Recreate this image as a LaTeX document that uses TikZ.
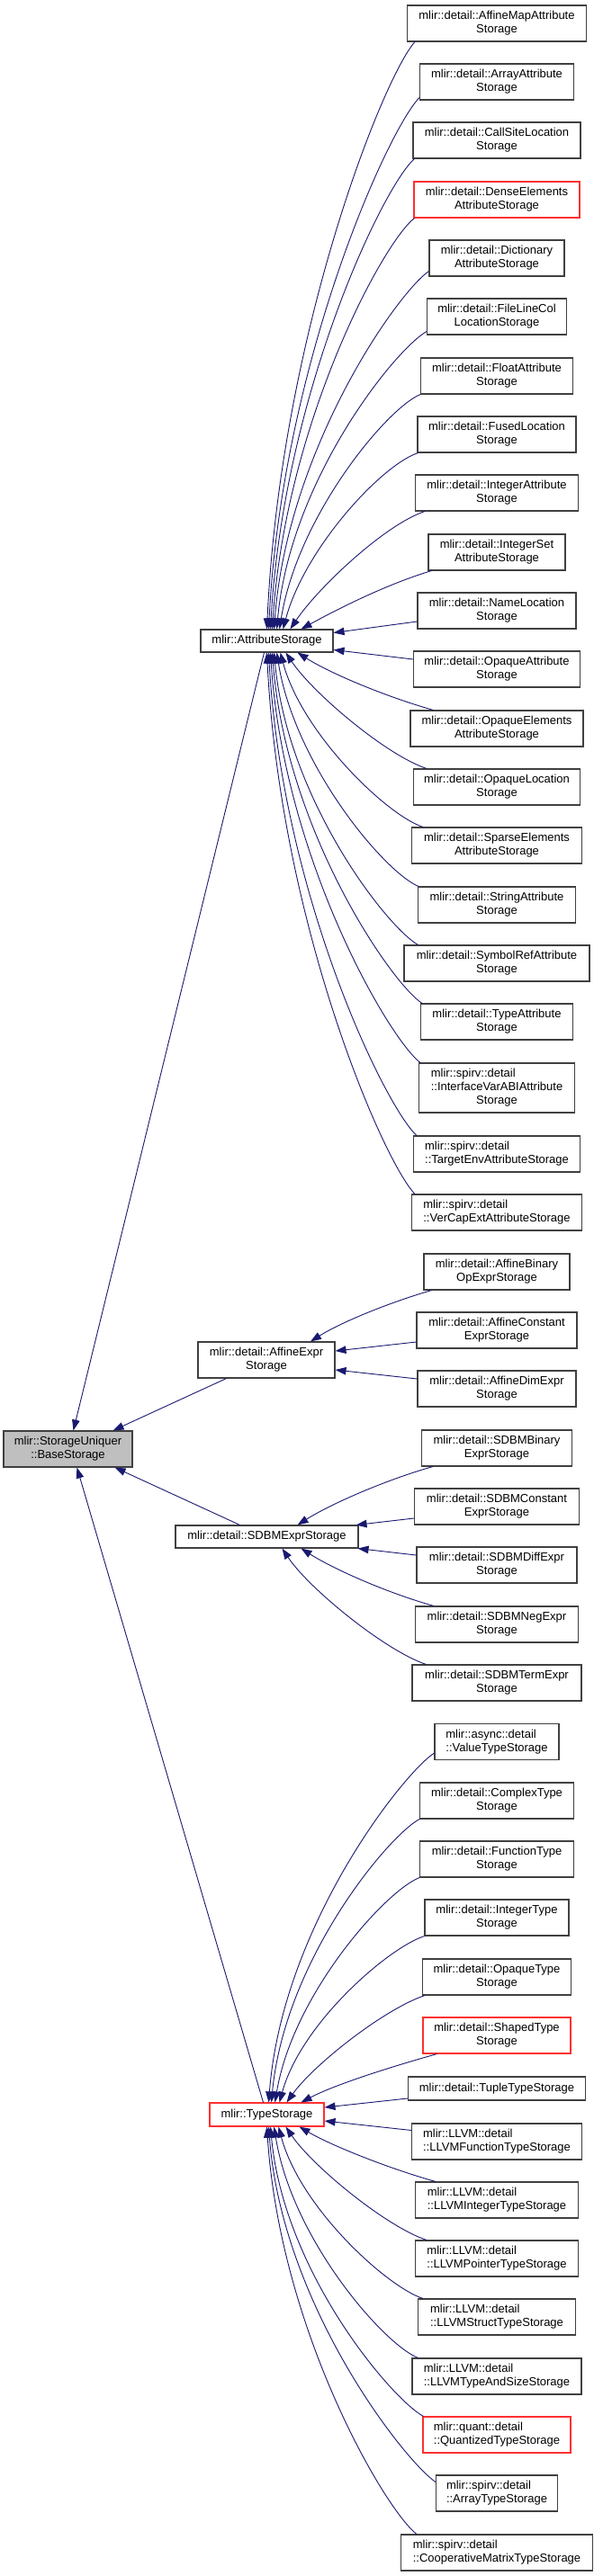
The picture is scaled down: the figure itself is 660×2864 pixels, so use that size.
\documentclass[tikz,border=0pt]{standalone}
\usepackage{fontspec}
\setmainfont{Liberation Sans}
\usetikzlibrary{arrows.meta,calc}
\definecolor{navy}{RGB}{25,25,112}
\definecolor{boxgray}{RGB}{64,64,64}
\definecolor{doxred}{RGB}{255,48,48}
\definecolor{basefill}{RGB}{191,191,191}
\tikzset{
  dbox/.style={draw=boxgray, line width=1.1pt, fill=white, font=\fontsize{13}{15}\selectfont,
    inner xsep=2pt, inner ysep=0pt, minimum height=40pt, align=center},
  lbox/.style={dbox, align=left},
  rbox/.style={dbox, draw=doxred},
  rlbox/.style={lbox, draw=doxred},
  inh/.style={draw=navy, line width=0.9pt, -{Triangle[length=12pt,width=8.5pt]}},
}
\begin{document}
\begin{tikzpicture}[x=1pt,y=-1pt]
\useasboundingbox (0,0) rectangle (660,2864);

% ---------- base and middle column ----------
\node[dbox, fill=basefill, minimum width=143pt] (bs) at (75.5,1611) {mlir::StorageUniquer\\::BaseStorage};
\node[dbox, minimum width=147pt, minimum height=25pt] (as) at (296.5,712.5) {mlir::AttributeStorage};
\node[dbox, minimum width=152pt] (ae) at (296,1512) {mlir::detail::AffineExpr\\Storage};
\node[dbox, minimum width=203pt, minimum height=25pt] (se) at (296.5,1708.5) {mlir::detail::SDBMExprStorage};
\node[rbox, minimum width=127pt, minimum height=26pt] (ts) at (296.5,2351) {mlir::TypeStorage};

% ---------- attribute storages ----------
\node[dbox, minimum width=199pt] (am) at (552,26) {mlir::detail::AffineMapAttribute\\Storage};
\node[dbox, minimum width=171pt] (ar) at (552,91) {mlir::detail::ArrayAttribute\\Storage};
\node[dbox, minimum width=186pt] (cs) at (552,156) {mlir::detail::CallSiteLocation\\Storage};
\node[rbox, minimum width=184pt] (de) at (552,222) {mlir::detail::DenseElements\\AttributeStorage};
\node[dbox, minimum width=150pt] (di) at (552,287) {mlir::detail::Dictionary\\AttributeStorage};
\node[dbox, minimum width=155pt] (fl) at (552,352) {mlir::detail::FileLineCol\\LocationStorage};
\node[dbox, minimum width=169pt] (fa) at (552,418) {mlir::detail::FloatAttribute\\Storage};
\node[dbox, minimum width=176pt] (fu) at (552,483) {mlir::detail::FusedLocation\\Storage};
\node[dbox, minimum width=181pt] (ia) at (552,548) {mlir::detail::IntegerAttribute\\Storage};
\node[dbox, minimum width=152pt] (is) at (552,614) {mlir::detail::IntegerSet\\AttributeStorage};
\node[dbox, minimum width=176pt] (nl) at (552,679) {mlir::detail::NameLocation\\Storage};
\node[dbox, minimum width=185pt] (oa) at (552,744) {mlir::detail::OpaqueAttribute\\Storage};
\node[dbox, minimum width=192pt] (oe) at (552,810) {mlir::detail::OpaqueElements\\AttributeStorage};
\node[dbox, minimum width=185pt] (ol) at (552,875) {mlir::detail::OpaqueLocation\\Storage};
\node[dbox, minimum width=189pt] (sp) at (552,940) {mlir::detail::SparseElements\\AttributeStorage};
\node[dbox, minimum width=175pt] (st) at (552,1006) {mlir::detail::StringAttribute\\Storage};
\node[dbox, minimum width=206pt] (sr) at (552,1071) {mlir::detail::SymbolRefAttribute\\Storage};
\node[dbox, minimum width=169pt] (ta) at (552,1136) {mlir::detail::TypeAttribute\\Storage};
\node[dbox, minimum width=173pt, minimum height=55pt] (iv) at (552,1209.5)
  {\begin{tabular}{@{}l@{}}mlir::spirv::detail\\::InterfaceVarABIAttribute\\\multicolumn{1}{@{}c@{}}{Storage}\end{tabular}};
\node[lbox, minimum width=185pt] (te) at (552,1283) {mlir::spirv::detail\\::TargetEnvAttributeStorage};
\node[lbox, minimum width=189pt] (vc) at (552,1348) {mlir::spirv::detail\\::VerCapExtAttributeStorage};

% ---------- affine expr storages ----------
\node[dbox, minimum width=162pt] (ab) at (552,1414) {mlir::detail::AffineBinary\\OpExprStorage};
\node[dbox, minimum width=178pt] (ac) at (552,1479) {mlir::detail::AffineConstant\\ExprStorage};
\node[dbox, minimum width=176pt] (ad) at (552,1544) {mlir::detail::AffineDimExpr\\Storage};

% ---------- sdbm storages ----------
\node[dbox, minimum width=167pt] (sb) at (552,1610) {mlir::detail::SDBMBinary\\ExprStorage};
\node[dbox, minimum width=183pt] (sc) at (552,1675) {mlir::detail::SDBMConstant\\ExprStorage};
\node[dbox, minimum width=178pt] (sd) at (552,1740) {mlir::detail::SDBMDiffExpr\\Storage};
\node[dbox, minimum width=181pt] (sn) at (552,1806) {mlir::detail::SDBMNegExpr\\Storage};
\node[dbox, minimum width=188pt] (sm) at (552,1871) {mlir::detail::SDBMTermExpr\\Storage};

% ---------- type storages ----------
\node[lbox, minimum width=138pt] (vt) at (552,1936.5) {mlir::async::detail\\::ValueTypeStorage};
\node[dbox, minimum width=171pt] (cx) at (552,2002) {mlir::detail::ComplexType\\Storage};
\node[dbox, minimum width=171pt] (fn) at (552,2067) {mlir::detail::FunctionType\\Storage};
\node[dbox, minimum width=160pt] (it) at (552,2132) {mlir::detail::IntegerType\\Storage};
\node[dbox, minimum width=165pt] (ot) at (552,2198) {mlir::detail::OpaqueType\\Storage};
\node[rbox, minimum width=164pt] (sh) at (552,2263) {mlir::detail::ShapedType\\Storage};
\node[dbox, minimum width=197pt, minimum height=26pt] (tu) at (552,2322) {mlir::detail::TupleTypeStorage};
\node[lbox, minimum width=189pt] (lf) at (552,2381) {mlir::LLVM::detail\\::LLVMFunctionTypeStorage};
\node[lbox, minimum width=181pt] (li) at (552,2446) {mlir::LLVM::detail\\::LLVMIntegerTypeStorage};
\node[lbox, minimum width=181pt] (lp) at (552,2511) {mlir::LLVM::detail\\::LLVMPointerTypeStorage};
\node[lbox, minimum width=175pt] (ls) at (552,2576) {mlir::LLVM::detail\\::LLVMStructTypeStorage};
\node[lbox, minimum width=188pt] (lt) at (552,2642) {mlir::LLVM::detail\\::LLVMTypeAndSizeStorage};
\node[rlbox, minimum width=164pt] (qt) at (552,2707) {mlir::quant::detail\\::QuantizedTypeStorage};
\node[lbox, minimum width=135pt] (at) at (552,2772) {mlir::spirv::detail\\::ArrayTypeStorage};
\node[lbox, minimum width=213pt] (cm) at (552,2838) {mlir::spirv::detail\\::CooperativeMatrixTypeStorage};

% ---------- edges to AttributeStorage ----------
\draw[inh] ($(am.south west)+(9,0)$) .. controls +(-35,39) and +(15,-327) .. ($(as.north)+(0,0)$);
\draw[inh] ($(ar.south west)+(0,-3)$) .. controls +(-35,36) and +(15,-296) .. ($(as.north)+(2,0)$);
\draw[inh] ($(cs.south west)+(2,0)$) .. controls +(-35,31) and +(15,-262) .. ($(as.north)+(4,0)$);
\draw[inh] ($(de.south west)+(1,0)$) .. controls +(-35,27) and +(15,-229) .. ($(as.north)+(6,0)$);
\draw[inh] ($(di.south west)+(0,-6)$) .. controls +(-35,24) and +(15,-200) .. ($(as.north)+(8,0)$);
\draw[inh] ($(fl.south west)+(0,-4)$) .. controls +(-35,20) and +(15,-166) .. ($(as.north)+(11,0)$);
\draw[inh] ($(fa.south west)+(0,0)$) .. controls +(-38,16) and +(20,-125) .. ($(as.north)+(14,0)$);
\draw[inh] ($(fu.south west)+(1,0)$) .. controls +(-40,13) and +(24,-90) .. ($(as.north)+(18,0)$);
\draw[inh] ($(ia.south west)+(11,0)$) .. controls +(-45,15) and +(30,-45) .. ($(as.north)+(26,0)$);
\draw[inh] ($(is.south west)+(4,0)$) .. controls +(-50,15) and +(40,-22) .. ($(as.north)+(38,0)$);
\draw[inh] ($(nl.west)+(0,12)$) -- ($(as.east)+(0,-9)$);
\draw[inh] ($(oa.west)+(0,-11)$) -- ($(as.east)+(0,10)$);
\draw[inh] ($(oe.north west)+(26,0)$) .. controls +(-50,-14) and +(38,24) .. ($(as.south)+(34,0)$);
\draw[inh] ($(ol.north west)+(15,0)$) .. controls +(-45,-15) and +(30,45) .. ($(as.south)+(21,0)$);
\draw[inh] ($(sp.north west)+(13,0)$) .. controls +(-40,-13) and +(24,90) .. ($(as.south)+(15,0)$);
\draw[inh] ($(st.north west)+(1,0)$) .. controls +(-38,-16) and +(20,125) .. ($(as.south)+(11,0)$);
\draw[inh] ($(sr.north west)+(16,0)$) .. controls +(-35,-20) and +(15,163) .. ($(as.south)+(8,0)$);
\draw[inh] ($(ta.north west)+(2,0)$) .. controls +(-35,-23) and +(15,196) .. ($(as.south)+(6,0)$);
\draw[inh] ($(iv.north west)+(2,0)$) .. controls +(-35,-27) and +(15,229) .. ($(as.south)+(4,0)$);
\draw[inh] ($(te.north west)+(4,0)$) .. controls +(-35,-32) and +(15,269) .. ($(as.south)+(2,0)$);
\draw[inh] ($(vc.north west)+(4,0)$) .. controls +(-35,-36) and +(15,302) .. ($(as.south)+(0,0)$);

% ---------- edges to AffineExpr ----------
\draw[inh] ($(ab.south west)+(9,0)$) .. controls +(-45,13) and +(35,-22) .. ($(ae.north)+(49,0)$);
\draw[inh] ($(ac.west)+(0,13)$) -- ($(ae.east)+(0,-10)$);
\draw[inh] ($(ad.west)+(0,-11)$) -- ($(ae.east)+(0,11)$);

% ---------- edges to SDBMExprStorage ----------
\draw[inh] ($(sb.south west)+(13,0)$) .. controls +(-50,14) and +(38,-24) .. ($(se.north)+(34,0)$);
\draw[inh] ($(sc.west)+(0,13)$) -- ($(se.north east)+(-3,0)$);
\draw[inh] ($(sd.west)+(0,-11)$) -- ($(se.south east)+(-1,0)$);
\draw[inh] ($(sn.north west)+(21,0)$) .. controls +(-50,-14) and +(38,24) .. ($(se.south)+(38,0)$);
\draw[inh] ($(sm.north west)+(16,0)$) .. controls +(-45,-15) and +(30,45) .. ($(se.south)+(17,0)$);

% ---------- edges to TypeStorage ----------
\draw[inh] ($(vt.south west)+(0,-8)$) .. controls +(-35,23) and +(15,-195) .. ($(ts.north)+(2,0)$);
\draw[inh] ($(cx.south west)+(0,0)$) .. controls +(-35,19) and +(15,-158) .. ($(ts.north)+(5,0)$);
\draw[inh] ($(fn.south west)+(0,0)$) .. controls +(-38,15) and +(20,-120) .. ($(ts.north)+(9,0)$);
\draw[inh] ($(it.south west)+(0,0)$) .. controls +(-40,13) and +(24,-88) .. ($(ts.north)+(14,0)$);
\draw[inh] ($(ot.south west)+(3,0)$) .. controls +(-45,15) and +(30,-42) .. ($(ts.north)+(22,0)$);
\draw[inh] ($(sh.south west)+(16,0)$) .. controls +(-50,14) and +(38,-20) .. ($(ts.north)+(38,0)$);
\draw[inh] ($(tu.west)+(0,11)$) -- ($(ts.east)+(0,-8)$);
\draw[inh] ($(lf.north west)+(0,8)$) -- ($(ts.east)+(0,7)$);
\draw[inh] ($(li.north west)+(23,0)$) .. controls +(-50,-14) and +(38,22) .. ($(ts.south)+(36,0)$);
\draw[inh] ($(lp.north west)+(13,0)$) .. controls +(-45,-15) and +(30,44) .. ($(ts.south)+(21,0)$);
\draw[inh] ($(ls.north west)+(6,0)$) .. controls +(-40,-13) and +(24,90) .. ($(ts.south)+(13,0)$);
\draw[inh] ($(lt.north west)+(7,0)$) .. controls +(-38,-15) and +(20,125) .. ($(ts.south)+(8,0)$);
\draw[inh] ($(qt.north west)+(1,0)$) .. controls +(-35,-19) and +(15,162) .. ($(ts.south)+(4,0)$);
\draw[inh] ($(at.north west)+(0,8)$) .. controls +(-35,-24) and +(15,198) .. ($(ts.south)+(2,0)$);
\draw[inh] ($(cm.north west)+(18,0)$) .. controls +(-35,-27) and +(15,227) .. ($(ts.south)+(0,0)$);

% ---------- edges to BaseStorage ----------
\draw[inh] ($(as.south)+(-3,0)$) -- ($(bs.north)+(6,0)$);
\draw[inh] ($(ae.south west)+(32,0)$) -- ($(bs.north east)+(-22,0)$);
\draw[inh] ($(se.north)+(-30,0)$) -- ($(bs.south east)+(-20,0)$);
\draw[inh] ($(ts.north)+(-4,0)$) -- ($(bs.south)+(10,0)$);
\end{tikzpicture}
\end{document}
